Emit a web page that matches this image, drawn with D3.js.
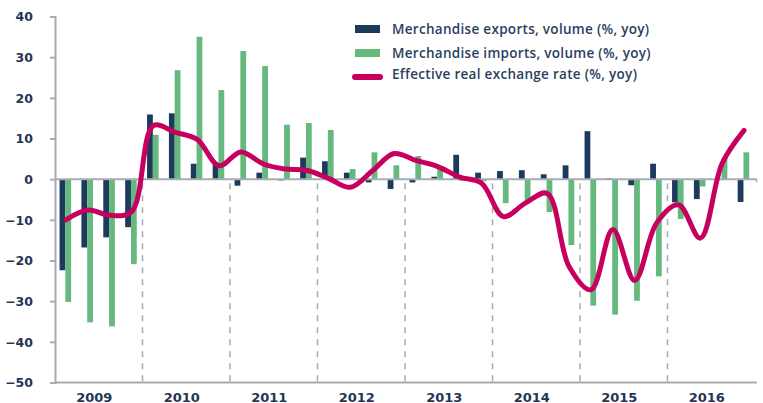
<!DOCTYPE html>
<html>
<head>
<meta charset="utf-8">
<script src="https://cdn.jsdelivr.net/npm/d3@7"></script>
<style>
  body { margin: 0; background: #fff; }
  .tick-label { font-family: "DejaVu Sans", sans-serif; font-weight: bold; font-size: 12.5px; fill: #1f3657; }
  .year-label { font-family: "DejaVu Sans", sans-serif; font-weight: bold; font-size: 13px; fill: #1f3657; }
  .legend text { font-family: "Open Sans", sans-serif; font-weight: 600; font-size: 13.5px; letter-spacing: 0.3px; fill: #2a3f5f; }
</style>
</head>
<body>
<div id="chart"></div>
<script>
// quarterly data, 2009Q1 .. 2016Q4
const years = ["2009", "2010", "2011", "2012", "2013", "2014", "2015", "2016"];
const quarters = [
  "2009Q1", "2009Q2", "2009Q3", "2009Q4", "2010Q1", "2010Q2", "2010Q3", "2010Q4",
  "2011Q1", "2011Q2", "2011Q3", "2011Q4", "2012Q1", "2012Q2", "2012Q3", "2012Q4",
  "2013Q1", "2013Q2", "2013Q3", "2013Q4", "2014Q1", "2014Q2", "2014Q3", "2014Q4",
  "2015Q1", "2015Q2", "2015Q3", "2015Q4", "2016Q1", "2016Q2", "2016Q3", "2016Q4"
];
const exportsVol = [
  -22.4, -16.8, -14.3, -11.8, 15.9, 16.2, 3.8, 3.6,
  -1.6, 1.6, -0.3, 5.3, 4.4, 1.6, -0.8, -2.4,
  -0.8, 0.6, 6.0, 1.6, 2.0, 2.2, 1.2, 3.4,
  11.8, 0.2, -1.5, 3.8, -5.7, -4.9, 0, -5.6
];
const importsVol = [
  -30.2, -35.2, -36.2, -20.9, 10.9, 26.8, 35.0, 21.9,
  31.5, 27.8, 13.4, 13.8, 12.1, 2.5, 6.6, 3.4,
  5.7, 2.5, -0.4, -0.5, -5.9, -5.9, -8.1, -16.2,
  -31.1, -33.3, -29.9, -23.9, -9.8, -1.8, 5.2, 6.6
];
const reer = [
  -10.0, -7.6, -8.9, -8.0, 13.2, 11.5, 9.8, 3.3,
  6.7, 3.8, 2.5, 2.2, 0.2, -2.0, 2.0, 6.3,
  4.6, 3.1, 0.5, -1.0, -9.2, -5.9, -3.5, -21.5,
  -27.2, -12.4, -24.9, -10.8, -6.3, -14.5, 3.9, 12.0
];
const yTicks = [40, 30, 20, 10, 0, -10, -20, -30, -40, -50];
const seriesNames = [
  "Merchandise exports, volume (%, yoy)",
  "Merchandise imports, volume (%, yoy)",
  "Effective real exchange rate (%, yoy)"
];

const colors = { exp: "#1b3a5c", imp: "#66b97e", reer: "#c7005f", axis: "#a7abb4" };

const W = 763, H = 403;
const plotLeft = 55, plotRight = 755, plotTop = 16.5, plotBottom = 382.5;

const svg = d3.select("#chart").append("svg")
  .attr("width", W)
  .attr("height", H);

const y = d3.scaleLinear().domain([-50, 40]).range([plotBottom, plotTop]);
const x = d3.scaleBand().domain(quarters).range([plotLeft, plotRight]).padding(0);
const xYear = d3.scaleBand().domain(years).range([plotLeft, plotRight]).padding(0);
const xSub = d3.scaleBand().domain(["exp", "imp"]).range([0, x.bandwidth()])
  .paddingInner(0).paddingOuter(0.89);

// dashed year separators below zero line
svg.append("g")
  .selectAll("line")
  .data(years.slice(1))
  .join("line")
  .attr("x1", d => xYear(d))
  .attr("x2", d => xYear(d))
  .attr("y1", y(0) + 4)
  .attr("y2", plotBottom)
  .attr("stroke", colors.axis)
  .attr("stroke-width", 1.5)
  .attr("stroke-dasharray", "6,6");

// bars
const rows = quarters.map((q, i) => ({ q, exp: exportsVol[i], imp: importsVol[i], reer: reer[i] }));

const groups = svg.append("g").selectAll("g")
  .data(rows)
  .join("g")
  .attr("transform", d => `translate(${x(d.q) - 0.6},0)`);

groups.selectAll("rect")
  .data(d => ["exp", "imp"].map(k => ({ k, v: d[k] })))
  .join("rect")
  .attr("x", d => xSub(d.k))
  .attr("width", xSub.bandwidth())
  .attr("y", d => y(Math.max(0, d.v)))
  .attr("height", d => Math.abs(y(d.v) - y(0)))
  .attr("fill", d => colors[d.k]);

// y axis
const yAxis = d3.axisLeft(y).tickValues(yTicks).tickSize(5).tickFormat(d3.format("d"));
const yG = svg.append("g")
  .attr("transform", `translate(${plotLeft},0)`)
  .call(yAxis);
yG.select(".domain").attr("stroke", colors.axis).attr("stroke-width", 2);
yG.selectAll(".tick line").attr("stroke", colors.axis).attr("stroke-width", 2);
yG.selectAll(".tick text")
  .attr("class", "tick-label")
  .attr("x", -22)
  .attr("dy", "0.35em")
  .attr("text-anchor", "end");
yG.attr("font-family", null).attr("font-size", null);

// zero line and bottom line
svg.append("line")
  .attr("x1", plotLeft).attr("x2", plotRight + 2)
  .attr("y1", y(0)).attr("y2", y(0))
  .attr("stroke", colors.axis).attr("stroke-width", 2);
svg.append("line")
  .attr("x1", plotRight + 1.5).attr("x2", plotRight + 1.5)
  .attr("y1", y(0)).attr("y2", y(0) + 3)
  .attr("stroke", colors.axis).attr("stroke-width", 1.5);
svg.append("line")
  .attr("x1", plotLeft).attr("x2", plotRight + 2)
  .attr("y1", plotBottom).attr("y2", plotBottom)
  .attr("stroke", colors.axis).attr("stroke-width", 2);

// year labels
svg.append("g").selectAll("text")
  .data(years)
  .join("text")
  .attr("class", "year-label")
  .attr("x", d => xYear(d) + xYear.bandwidth() / 2 - 4.5)
  .attr("y", 401.5)
  .attr("text-anchor", "middle")
  .text(d => d);

// REER line
const line = d3.line()
  .x(d => x(d.q) + x.bandwidth() / 2)
  .y(d => y(d.reer))
  .curve(d3.curveCatmullRom.alpha(0.5));

svg.append("path")
  .datum(rows)
  .attr("d", line)
  .attr("fill", "none")
  .attr("stroke", colors.reer)
  .attr("stroke-width", 5)
  .attr("stroke-linecap", "round")
  .attr("stroke-linejoin", "round");

// legend
const legend = svg.append("g").attr("class", "legend");
const legY = [29, 53, 74.5];
legend.append("rect").attr("x", 355).attr("y", 25).attr("width", 25).attr("height", 8).attr("fill", colors.exp);
legend.append("rect").attr("x", 355).attr("y", 49).attr("width", 25).attr("height", 8).attr("fill", colors.imp);
legend.append("line")
  .attr("x1", 355).attr("x2", 380).attr("y1", 77).attr("y2", 77)
  .attr("stroke", colors.reer).attr("stroke-width", 6).attr("stroke-linecap", "round");
legend.selectAll("text")
  .data(seriesNames)
  .join("text")
  .attr("x", 392)
  .attr("y", (d, i) => legY[i])
  .attr("dy", "0.35em")
  .text(d => d);
</script>
</body>
</html>
